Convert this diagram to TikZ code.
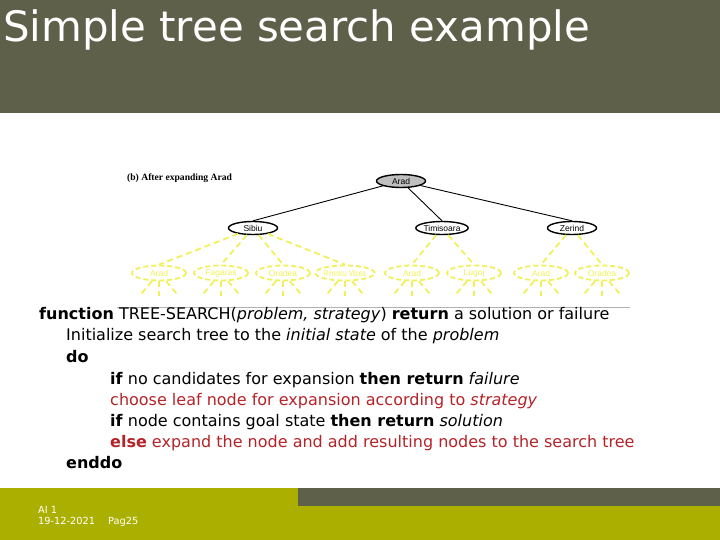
\documentclass[tikz,border=0pt]{standalone}
\usepackage{fontspec}
\setmainfont{DejaVu Sans}
\newfontfamily\treefont{Liberation Sans}
\newfontfamily\capfont{Liberation Serif}
\usetikzlibrary{shapes.geometric}
\definecolor{hdr}{RGB}{94,96,74}
\definecolor{ftr}{RGB}{171,176,0}
\definecolor{leafy}{RGB}{240,240,90}
\definecolor{redtxt}{RGB}{180,35,40}
\tikzset{
  tnode/.style={ellipse, draw=black, line width=1.4pt, minimum width=49pt, minimum height=13pt, inner sep=0pt, font=\treefont\fontsize{8.5}{9}\selectfont},
  leafnode/.style={ellipse, draw=leafy, line width=1.8pt, dash pattern=on 5pt off 3pt, minimum width=54pt, minimum height=15pt, inner sep=0pt, text=leafy, font=\treefont\fontsize{8.5}{9}\selectfont},
  tedge/.style={draw=black, line width=0.9pt},
  ledge/.style={draw=leafy, line width=1.8pt, dash pattern=on 6pt off 4pt},
  code/.style={anchor=base west, inner sep=0pt, font=\fontsize{16}{18}\selectfont},
  foot/.style={anchor=base west, inner sep=0pt, text=white, font=\fontsize{9.8}{11}\selectfont},
}
\begin{document}
\begin{tikzpicture}[x=1pt,y=-1pt]
\useasboundingbox (0,0) rectangle (720,540);
% header
\fill[hdr] (0,0) rectangle (720,113);
\node[anchor=base west, inner sep=0pt, text=white, font=\fontsize{41.9}{45}\selectfont] (title) at (3,42) {Simple tree search example};
% footer
\fill[ftr] (0,488) rectangle (720,540);
\fill[hdr] (298,488) rectangle (720,506);
\node[foot] (f1) at (38,513) {AI 1};
\node[foot] (f2) at (38,524) {19-12-2021\hspace{13pt}Pag25};
% tree figure
\node[anchor=base west, inner sep=0pt, font=\capfont\bfseries\fontsize{9.6}{11}\selectfont] (cap) at (127,181) {(b) After expanding Arad};
\node[tnode, fill=black!25] (arad) at (401,181) {Arad};
\node[tnode] (sibiu) at (253,228) {Sibiu};
\node[tnode] (timi) at (442,228) {Timisoara};
\node[tnode] (zerind) at (572,228) {Zerind};
\draw[tedge] (arad) -- (sibiu.north);
\draw[tedge] (arad) -- (timi.north);
\draw[tedge] (arad) -- (zerind.north);
\node[leafnode] (l1) at (159,273) {Arad};
\node[leafnode] (l2) at (221,273) {Fagaras};
\node[leafnode] (l3) at (283,273) {Oradea};
\node[leafnode] (l4) at (345,273) {\scalebox{0.75}[1]{Rimnicu Vilcea}};
\node[leafnode] (l5) at (412,273) {Arad};
\node[leafnode] (l6) at (474,273) {Lugoj};
\node[leafnode] (l7) at (541,273) {Arad};
\node[leafnode] (l8) at (602,273) {Oradea};
\foreach \c in {l1,l2,l3,l4}{\draw[ledge] (sibiu) -- (\c.north);}
\foreach \c in {l5,l6}{\draw[ledge] (timi) -- (\c.north);}
\foreach \c in {l7,l8}{\draw[ledge] (zerind) -- (\c.north);}
\foreach \c in {l1,l2,l3,l4,l5,l6,l7,l8}{
  \path (\c.south) ++(-20,15) coordinate (\c a);
  \path (\c.south) ++(0,15) coordinate (\c b);
  \path (\c.south) ++(20,15) coordinate (\c c);
  \draw[ledge] (\c) -- (\c a);
  \draw[ledge] (\c.south) -- (\c b);
  \draw[ledge] (\c) -- (\c c);
}
\draw[black!30, line width=1pt] (117,307) -- (630,307);
% code
\node[code] (c1) at (39,319) {\textbf{function} TREE-SEARCH(\textit{problem, strategy}) \textbf{return} a solution or failure};
\node[code] (c2) at (66,340) {Initialize search tree to the \textit{initial state} of the \textit{problem}};
\node[code] (c3) at (66,362) {\textbf{do}};
\node[code] (c4) at (110,384) {\textbf{if} no candidates for expansion \textbf{then return} \textit{failure}};
\node[code, text=redtxt] (c5) at (110,405) {choose leaf node for expansion according to \textit{strategy}};
\node[code] (c6) at (110,426) {\textbf{if} node contains goal state \textbf{then return} \textit{solution}};
\node[code, text=redtxt] (c7) at (110,447) {\textbf{else} expand the node and add resulting nodes to the search tree};
\node[code] (c8) at (66,468) {\textbf{enddo}};
\end{tikzpicture}
\end{document}
